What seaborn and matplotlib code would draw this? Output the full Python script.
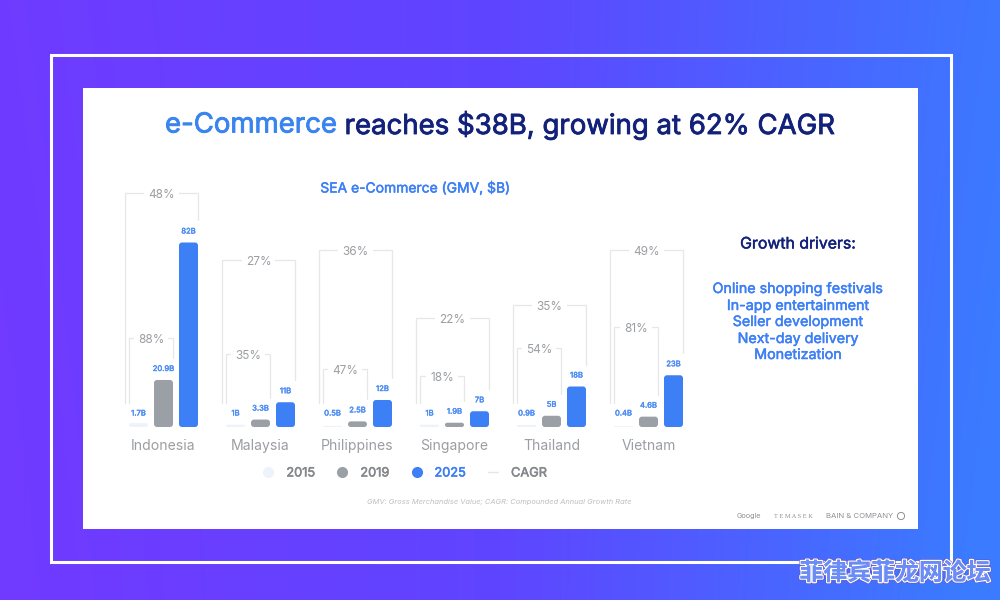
import numpy as np
import pandas as pd
import matplotlib
matplotlib.use("Agg")
import matplotlib.pyplot as plt
import seaborn as sns
from matplotlib.patches import FancyBboxPatch, Rectangle, Circle
from matplotlib.lines import Line2D
from matplotlib.colors import LinearSegmentedColormap
from matplotlib.transforms import IdentityTransform
import matplotlib.patheffects as pe

# ---------- data ----------
countries = ["Indonesia", "Malaysia", "Philippines", "Singapore", "Thailand", "Vietnam"]
years = ["2015", "2019", "2025"]
gmv_2015 = [1.7, 1.0, 0.5, 1.0, 0.9, 0.4]
gmv_2019 = [20.9, 3.3, 2.5, 1.9, 5.0, 4.6]
gmv_2025 = [82, 11, 12, 7, 18, 23]
labels_2015 = ["1.7B", "1B", "0.5B", "1B", "0.9B", "0.4B"]
labels_2019 = ["20.9B", "3.3B", "2.5B", "1.9B", "5B", "4.6B"]
labels_2025 = ["82B", "11B", "12B", "7B", "18B", "23B"]
cagr_15_25 = ["48%", "27%", "36%", "22%", "35%", "49%"]
cagr_15_19 = ["88%", "35%", "47%", "18%", "54%", "81%"]
drivers = ["Online shopping festivals", "In-app entertainment", "Seller development",
           "Next-day delivery", "Monetization"]
# heights of the CAGR brackets, in chart value units
bracket_long = [104.0, 74.2, 78.7, 48.4, 54.2, 78.7]
bracket_short = [39.6, 32.4, 25.8, 22.7, 35.1, 44.4]

# ---------- style ----------
sns.set_theme(style="white")
FONT = "Inter"
plt.rcParams["font.family"] = [FONT, "DejaVu Sans"]
BLUE = "#3D7FF5"
TITLE_BLUE = "#3A84F0"
LABEL_BLUE = "#4C8DF3"
GRAY = "#9AA0A6"
PALE = "#EEF3FB"
NAVY = "#12217A"
LINE = "#E6E7E9"
TXT = "#9B9EA2"
palette = {"2015": PALE, "2019": GRAY, "2025": BLUE}


def heavy(color, w=0.45):
    """Thin same-colour stroke that thickens the type a little."""
    return [pe.withStroke(linewidth=w, foreground=color)]


W, H = 1000, 600
fig = plt.figure(figsize=(W / 100, H / 100), dpi=100)

# ---------- decoration layer, in pixel coordinates ----------
bg = fig.add_axes([0, 0, 1, 1], zorder=0)
bg.set_xlim(0, W)
bg.set_ylim(H, 0)
bg.axis("off")
gx, gy = np.meshgrid(np.linspace(0, 1, 400), np.linspace(0, 1, 240))
grad = gx + 0.08 * (gy - 0.5) * (2 * gx - 1)
cmap = LinearSegmentedColormap.from_list("g", ["#703AFF", "#5F45FF", "#3B7BFF"])
bg.imshow(grad, extent=[0, W, H, 0], cmap=cmap, vmin=0, vmax=1, aspect="auto", zorder=0)
bg.add_patch(Rectangle((50.5, 54.5), 900, 507, fill=False, ec="white", lw=2.2, zorder=1))
bg.add_patch(Rectangle((83, 88), 835, 441, fc="white", ec="none", zorder=2))


def t(x, y, s, **kw):
    kw.setdefault("ha", "center")
    kw.setdefault("va", "center")
    kw.setdefault("zorder", 5)
    return bg.text(x, y, s, **kw)


# title in two colours
TITLE_SIZE = 19.85
ttl1 = t(165, 125.5, "e-Commerce", ha="left", fontsize=TITLE_SIZE, color=TITLE_BLUE,
         path_effects=heavy(TITLE_BLUE, 0.6))
fig.canvas.draw()
ext = ttl1.get_window_extent()
t(ext.x1 + 8, 125.5, "reaches $38B, growing at 62% CAGR", ha="left", fontsize=TITLE_SIZE,
  color=NAVY, path_effects=heavy(NAVY, 0.6))

t(415.5, 188, "SEA e-Commerce (GMV, $B)", fontsize=10, color=BLUE, path_effects=heavy(BLUE, 0.35))
t(798, 244, "Growth drivers:", fontsize=11.4, color=NAVY, path_effects=heavy(NAVY, 0.35))
for yy, d in zip([289, 306, 322, 339, 355], drivers):
    t(798, yy, d, fontsize=10.3, color=BLUE, path_effects=heavy(BLUE, 0.35))

t(499.5, 502, "GMV: Gross Merchandise Value; CAGR: Compounded Annual Growth Rate",
  fontsize=5.4, color="#BDBFC2", style="italic")
t(748.5, 516, "Google", fontsize=5.2, color="#8E9094")
t(793, 516, "T E M A S E K", fontsize=4.6, color="#8E9094", family="Liberation Serif")
t(859.5, 516, "BAIN & COMPANY", fontsize=5.6, color="#8E9094")
bg.add_patch(Circle((901, 516), 3.6, fc="none", ec="#8E9094", lw=0.7, zorder=5))

t(895, 573, "菲律宾菲龙网论坛", fontsize=17.2, color="#6C8CF5",
  family=["Noto Sans CJK SC", "DejaVu Sans"], fontweight="bold",
  path_effects=[pe.withStroke(linewidth=2.6, foreground="#6A55B8"),
                pe.withStroke(linewidth=1.8, foreground="white"),
                pe.Normal()], zorder=6)

# ---------- chart ----------
PX_PER_UNIT = 2.25
base_px, top_px = 427, 180
left_px, right_px = 115, 697
ax = fig.add_axes([left_px / W, 1 - base_px / H, (right_px - left_px) / W, (base_px - top_px) / H], zorder=3)
ax.patch.set_alpha(0)

df = pd.DataFrame({
    "country": countries * 3,
    "year": [y for y in years for _ in countries],
    "gmv": gmv_2015 + gmv_2019 + gmv_2025,
})
sns.barplot(data=df, x="country", y="gmv", hue="year", order=countries, hue_order=years,
            palette=palette, width=0.773, gap=0.24, saturation=1, errorbar=None,
            legend=False, ax=ax)
ax.set_xlim(-0.5, 5.5)
ax.set_ylim(0, (base_px - top_px) / PX_PER_UNIT)
ax.set_xlabel("")
ax.set_ylabel("")
ax.set_yticks([])
sns.despine(ax=ax, left=True, bottom=True)
ax.tick_params(axis="x", length=0, pad=8.5, labelsize=10.1, labelcolor=TXT)
fig.canvas.draw()

# round the bar corners, keeping each bar's own extent
rects = list(ax.patches)
n = len(countries)
for i, r in enumerate(rects):
    bb = r.get_window_extent()
    rad = min(3.0, bb.height / 2, bb.width / 2)
    fig.add_artist(FancyBboxPatch((bb.x0, bb.y0), bb.width, bb.height,
                                  boxstyle=f"round,pad=0,rounding_size={rad}",
                                  fc=r.get_facecolor(), ec="none",
                                  transform=IdentityTransform(), zorder=4))
    r.set_visible(False)

LABEL_OFF = 11 / PX_PER_UNIT   # value label above the bar top
PCT_DROP = 2.0 / PX_PER_UNIT
unit_px = (right_px - left_px) / 6
for i in range(n):
    r15, r19, r25 = rects[i], rects[i + n], rects[i + 2 * n]
    for r, lab in zip((r15, r19, r25), (labels_2015[i], labels_2019[i], labels_2025[i])):
        cx = r.get_x() + r.get_width() / 2
        yy = 13.5 / PX_PER_UNIT if r is r15 else r.get_height() + LABEL_OFF
        ax.text(cx, yy, lab, ha="center", va="center", fontsize=5.5, color=LABEL_BLUE,
                path_effects=heavy(LABEL_BLUE, 0.3), zorder=6)
    lx_out = r15.get_x() - 4 / unit_px
    lx_in = r15.get_x()
    rx_out = r25.get_x() + r25.get_width()
    rx_in = r19.get_x() + r19.get_width()
    left_end = 24 / PX_PER_UNIT
    y_long_end = r25.get_height() + 22 / PX_PER_UNIT
    y_short_end = r19.get_height() + 22 / PX_PER_UNIT
    ax.plot([lx_out, lx_out, rx_out, rx_out],
            [left_end, bracket_long[i], bracket_long[i], y_long_end],
            color=LINE, lw=0.9, clip_on=False, zorder=2)
    ax.plot([lx_in, lx_in, rx_in, rx_in],
            [left_end, bracket_short[i], bracket_short[i], y_short_end],
            color=LINE, lw=0.9, clip_on=False, zorder=2)
    box = dict(fc="white", ec="none", pad=3)
    ax.text((lx_out + rx_out) / 2, bracket_long[i] - PCT_DROP, cagr_15_25[i], ha="center", va="center",
            fontsize=8.5, color=TXT, bbox=box, zorder=5, clip_on=False)
    ax.text((lx_in + rx_in) / 2, bracket_short[i] - PCT_DROP, cagr_15_19[i], ha="center", va="center",
            fontsize=8.5, color=TXT, bbox=box, zorder=5, clip_on=False)

# ---------- legend ----------
handles = [
    Line2D([], [], ls="", marker="o", ms=8, mfc=PALE, mec="none", label="2015"),
    Line2D([], [], ls="", marker="o", ms=8, mfc=GRAY, mec="none", label="2019"),
    Line2D([], [], ls="", marker="o", ms=8, mfc=BLUE, mec="none", label="2025"),
    Line2D([], [], color=LINE, lw=1, label="CAGR"),
]
leg = ax.legend(handles=handles, ncol=4, frameon=False, loc="center", prop={"size": 9.2},
                bbox_to_anchor=((405 - left_px) / (right_px - left_px), (427 - 473.5) / (427 - 180)),
                handlelength=0.8, handletextpad=1.0, columnspacing=1.75, borderaxespad=0, borderpad=0)
for txt, c in zip(leg.get_texts(), ["#85888C", "#85888C", BLUE, "#85888C"]):
    txt.set_color(c)
    txt.set_path_effects(heavy(c, 0.4))

fig.savefig("out.png", dpi=100)
